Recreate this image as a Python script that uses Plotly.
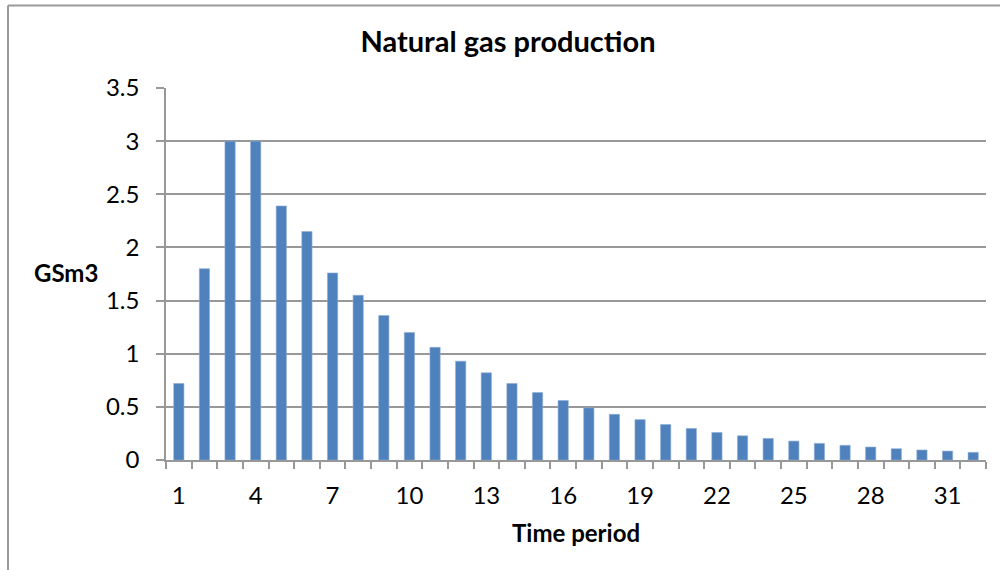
import plotly.graph_objects as go

# Natural gas production per time period (GSm3)
periods = list(range(1, 33))
production = [0.72, 1.80, 3.00, 3.00, 2.39, 2.15, 1.76, 1.55, 1.36, 1.20,
              1.06, 0.93, 0.82, 0.72, 0.635, 0.56, 0.49, 0.43, 0.38, 0.334,
              0.297, 0.259, 0.228, 0.203, 0.178, 0.156, 0.138, 0.122, 0.106,
              0.094, 0.084, 0.072]
x_tick_values = list(range(1, 33, 3))
y_tick_values = [0, 0.5, 1, 1.5, 2, 2.5, 3, 3.5]

FONT = "Lato"
GRID = "#989898"

W, H = 1000, 570
L, R, T, B = 166, 14, 88, 110
pw, ph = W - L - R, H - T - B


def px_x(p):
    return (p - L) / pw


def px_y(p):
    return (H - B - p) / ph


fig = go.Figure(
    go.Bar(
        x=periods,
        y=production,
        marker=dict(color="#4F81BD", line=dict(color="#8EACD6", width=0.6)),
        hoverinfo="x+y",
    )
)

fig.update_layout(
    width=W,
    height=H,
    margin=dict(l=L, r=R, t=T, b=B),
    paper_bgcolor="white",
    plot_bgcolor="white",
    bargap=0.6,
    showlegend=False,
    font=dict(family=FONT, color="black"),
    title=dict(
        text="<b>Natural gas production</b>",
        x=0.508, xref="container", xanchor="center",
        y=1 - 42 / H, yref="container", yanchor="middle",
        font=dict(size=29, family=FONT, color="black"),
    ),
)

fig.update_xaxes(
    range=[0.5, 32.5],
    tickmode="array",
    tickvals=x_tick_values,
    ticktext=[str(v) for v in x_tick_values],
    ticks="",
    ticklabelstandoff=13,
    tickfont=dict(size=24, family=FONT, color="black"),
    showgrid=False,
    zeroline=False,
    showline=True,
    linecolor=GRID,
    linewidth=1.5,
    minor=dict(
        tickmode="array",
        tickvals=[p + 0.5 for p in range(0, 33)],
        ticks="outside",
        ticklen=7,
        tickcolor=GRID,
        tickwidth=1.5,
        showgrid=False,
    ),
    fixedrange=True,
)

fig.update_yaxes(
    range=[0, 3.5],
    tickmode="array",
    tickvals=y_tick_values,
    ticktext=[f"{v:g}" for v in y_tick_values],
    ticks="outside",
    ticklen=8,
    tickcolor=GRID,
    tickwidth=1.5,
    ticklabelstandoff=12,
    tickfont=dict(size=24, family=FONT, color="black"),
    showgrid=True,
    gridcolor=GRID,
    gridwidth=1.5,
    zeroline=False,
    showline=True,
    linecolor=GRID,
    linewidth=1.5,
    fixedrange=True,
)

# Axis titles
fig.add_annotation(
    text="<b>GSm3</b>", xref="paper", yref="paper",
    x=px_x(66), y=px_y(272), xanchor="center", yanchor="middle",
    showarrow=False, font=dict(size=24, family=FONT, color="black"),
)
fig.add_annotation(
    text="<b>Time period</b>", xref="paper", yref="paper",
    x=px_x(576), y=px_y(532), xanchor="center", yanchor="middle",
    showarrow=False, font=dict(size=24, family=FONT, color="black"),
)

# Chart frame (left and top edges)
frame = dict(color="#9a9a9a", width=2)
fig.add_shape(type="line", xref="paper", yref="paper",
              x0=px_x(8), x1=px_x(8), y0=px_y(5.5), y1=px_y(H + 10), line=frame)
fig.add_shape(type="line", xref="paper", yref="paper",
              x0=px_x(8), x1=px_x(W + 10), y0=px_y(5.5), y1=px_y(5.5), line=frame)

fig.write_html("out.html")
